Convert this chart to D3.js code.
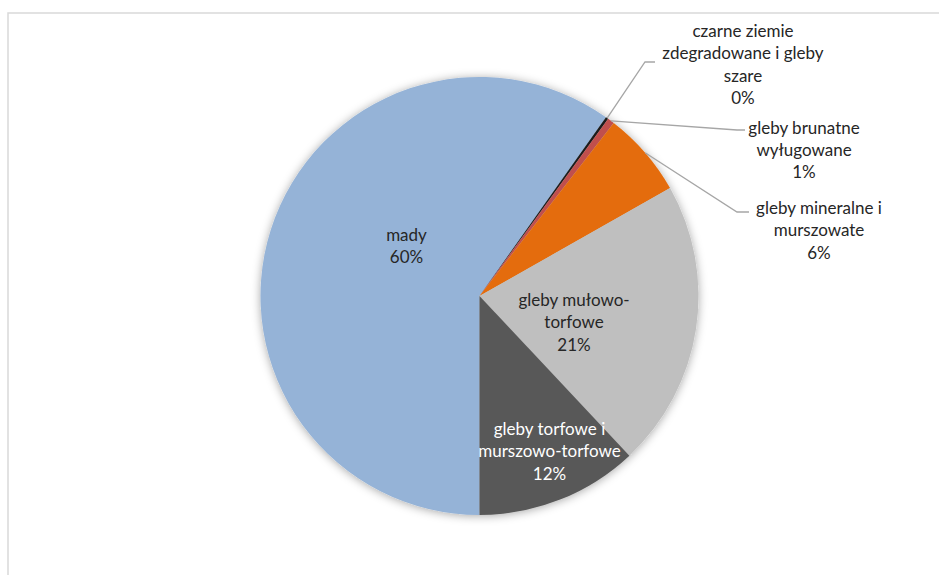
<!DOCTYPE html>
<html>
<head>
<meta charset="utf-8">
<script src="https://cdn.jsdelivr.net/npm/d3@7"></script>
<style>
  html, body { margin: 0; padding: 0; background: #ffffff; }
  svg { display: block; }
  text { font-family: "Lato", "Noto Sans", sans-serif; }
</style>
</head>
<body>
<svg id="chart" width="939" height="575"></svg>
<script>
// Soil types and their share of the area (%)
const categories = [
  "mady",
  "czarne ziemie zdegradowane i gleby szare",
  "gleby brunatne wyługowane",
  "gleby mineralne i murszowate",
  "gleby mułowo-torfowe",
  "gleby torfowe i murszowo-torfowe"
];
const shares = [59.8, 0.2, 0.5, 6.3, 21.2, 12.0];

// Wrapped label lines (category part) as they appear next to each slice
const labelLines = [
  ["mady"],
  ["czarne ziemie", "zdegradowane i gleby", "szare"],
  ["gleby brunatne", "wyługowane"],
  ["gleby mineralne i", "murszowate"],
  ["gleby mułowo-", "torfowe"],
  ["gleby torfowe i", "murszowo-torfowe"]
];

const sliceColors = ["#95b3d7", "#1f1f1f", "#c0504d", "#e46c0a", "#bfbfbf", "#595959"];

// Label placement: text centre, first-line offset, optional leader elbow
const labelLayout = [
  { x: 406.5, y: 234.5, color: "#262626" },
  { x: 743, y: 31, color: "#262626", elbow: [645, 62], end: [655, 62] },
  { x: 804, y: 127.5, color: "#262626", elbow: [737, 130], end: [745, 130] },
  { x: 819, y: 208, color: "#262626", elbow: [737, 212], end: [749, 212] },
  { x: 574, y: 300, color: "#262626" },
  { x: 549.5, y: 429, color: "#ffffff" }
];

const svg = d3.select("#chart");
const cx = 479.5, cy = 296, radius = 219;
const lineStep = 22.3;

// Chart area border
svg.append("rect")
  .attr("x", 8).attr("y", 13)
  .attr("width", 1200).attr("height", 1200)
  .attr("fill", "none")
  .attr("stroke", "#d9d9d9")
  .attr("stroke-width", 1.5);

// Soft shadow around the pie
const defs = svg.append("defs");
const filter = defs.append("filter")
  .attr("id", "pieShadow")
  .attr("x", "-20%").attr("y", "-20%")
  .attr("width", "140%").attr("height", "140%");
filter.append("feDropShadow")
  .attr("dx", 0).attr("dy", 1)
  .attr("stdDeviation", 5)
  .attr("flood-color", "#000000")
  .attr("flood-opacity", 0.35);

const total = d3.sum(shares);
const pie = d3.pie()
  .sort(null)
  .value(d => d)
  .startAngle(Math.PI)
  .endAngle(Math.PI * 3);
const arcs = pie(shares);

const arc = d3.arc().innerRadius(0).outerRadius(radius);
const edgeArc = d3.arc().innerRadius(radius).outerRadius(radius);

const g = svg.append("g").attr("transform", `translate(${cx},${cy})`);

g.append("g")
  .attr("filter", "url(#pieShadow)")
  .selectAll("path")
  .data(arcs)
  .join("path")
  .attr("d", arc)
  .attr("fill", (d, i) => sliceColors[i]);

// Leader lines for the thin slices
arcs.forEach((d, i) => {
  const L = labelLayout[i];
  if (!L.elbow) return;
  const [sx, sy] = edgeArc.centroid(d);
  svg.append("polyline")
    .attr("points", [[cx + sx, cy + sy], L.elbow, L.end].map(p => p.join(",")).join(" "))
    .attr("fill", "none")
    .attr("stroke", "#a6a6a6")
    .attr("stroke-width", 1.3);
});

// Data labels: category name plus percentage share
arcs.forEach((d, i) => {
  const L = labelLayout[i];
  const lines = labelLines[i].concat([Math.round(d.value / total * 100) + "%"]);
  const t = svg.append("text")
    .attr("text-anchor", "middle")
    .attr("fill", L.color)
    .style("font-size", "17px");
  lines.forEach((s, k) => {
    t.append("tspan")
      .attr("x", L.x)
      .attr("y", L.y + k * lineStep)
      .attr("dy", "0.36em")
      .text(s);
  });
});
</script>
</body>
</html>
